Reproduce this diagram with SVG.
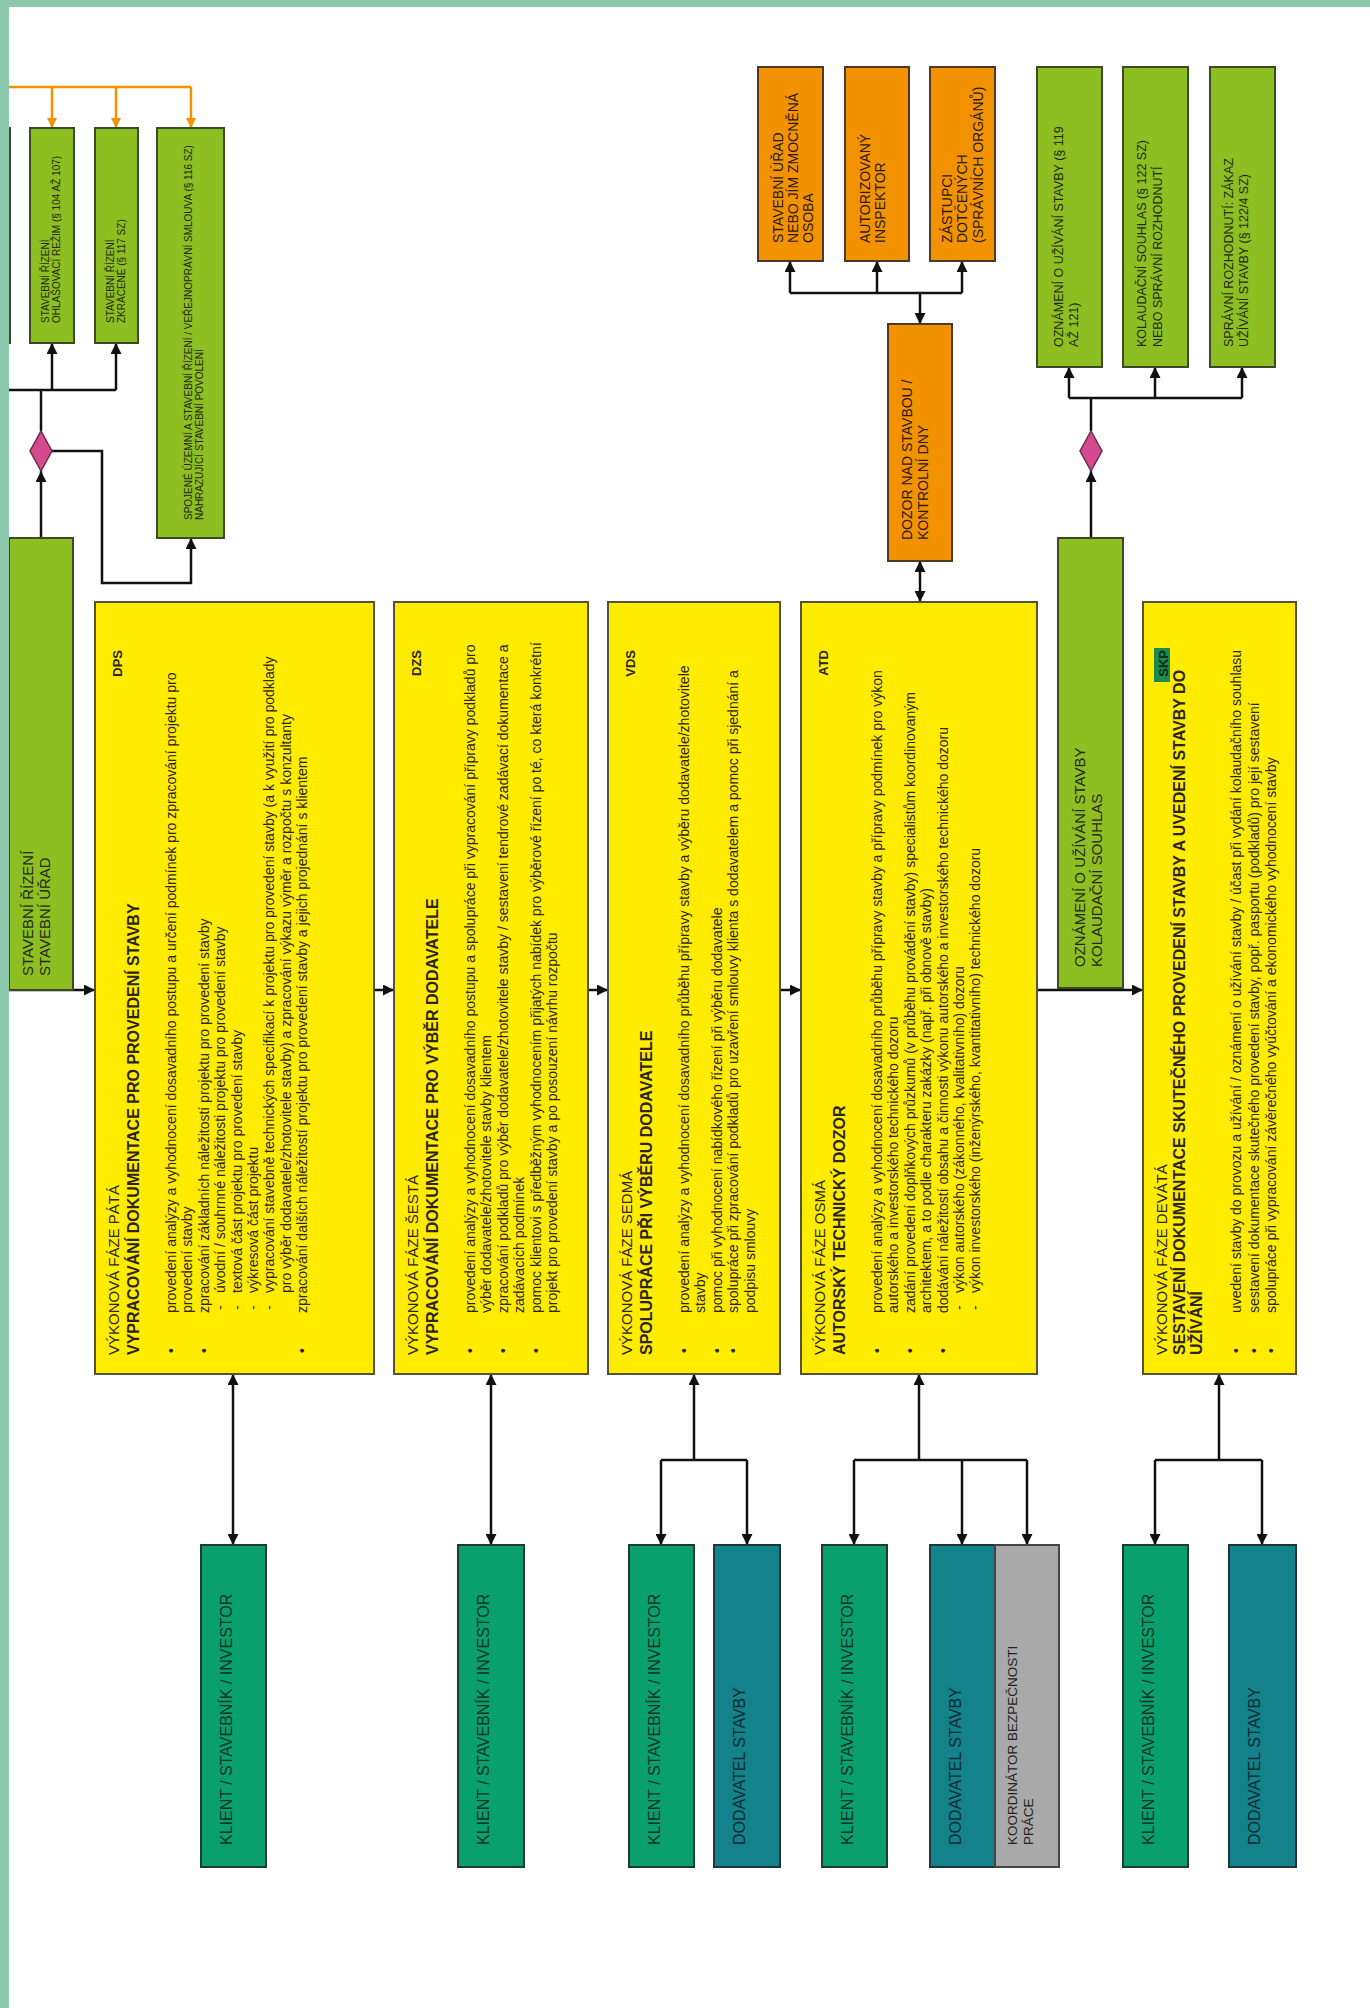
<svg xmlns="http://www.w3.org/2000/svg" width="1370" height="2008" viewBox="0 0 1370 2008">
<defs>
<style>
text{font-family:"Liberation Sans",Arial,sans-serif;fill:#2a2410}
.y{fill:#ffec00;stroke:#55513a;stroke-width:2}
.lm{fill:#8dbe22;stroke:#3d4a25;stroke-width:2}
.or{fill:#f39200;stroke:#4d3a25;stroke-width:2}
.gn{fill:#0aa06e;stroke:#1f3b30;stroke-width:2}
.tl{fill:#14828a;stroke:#1f3538;stroke-width:2}
.gy{fill:#a9a9a9;stroke:#444;stroke-width:2}
.dm{fill:#d34a8e;stroke:#6a2c4a;stroke-width:1.5}
.hd{font-size:15px}
.ti{font-size:16px;font-weight:bold}
.bd{font-size:14px}
.lb{font-size:13px;font-weight:bold}
.sm{font-size:10px;fill:#1e2a0f}
.bx{font-size:14px;fill:#2a1a00}
.bg{font-size:12.5px;fill:#1e2a0f}
.bl{font-size:15px;fill:#1e2a0f}
.bt{font-size:16px;fill:#0b3326}
.c{fill:none;stroke:#111;stroke-width:2.5}
.co{fill:none;stroke:#f39200;stroke-width:2.5}
</style>
<marker id="ah" viewBox="0 0 10 10" refX="10" refY="5" markerWidth="11" markerHeight="11" markerUnits="userSpaceOnUse" orient="auto-start-reverse"><path d="M0,0 L10,5 L0,10 z" fill="#111"/></marker>
<marker id="ao" viewBox="0 0 10 10" refX="10" refY="5" markerWidth="10" markerHeight="10" markerUnits="userSpaceOnUse" orient="auto-start-reverse"><path d="M0,0 L10,5 L0,10 z" fill="#f39200"/></marker>
</defs>
<rect x="0" y="0" width="1370" height="2008" fill="#ffffff"/>

<g id="connectors">
<path class="co" d="M9,87 H191" />
<path class="co" d="M52,87 V128" marker-end="url(#ao)"/>
<path class="co" d="M116,87 V128" marker-end="url(#ao)"/>
<path class="co" d="M191,87 V128" marker-end="url(#ao)"/>
<path class="c" d="M9,390 H116"/>
<path class="c" d="M52,390 V343" marker-end="url(#ah)"/>
<path class="c" d="M116,390 V343" marker-end="url(#ah)"/>
<path class="c" d="M41,431 V390"/>
<path class="c" d="M41,538 V471" marker-end="url(#ah)"/>
<path class="c" d="M52,451 H102 V583 H191 V538" marker-end="url(#ah)"/>
<path class="c" d="M9,990 H95" marker-end="url(#ah)"/>
<path class="c" d="M374,990 H394" marker-end="url(#ah)"/>
<path class="c" d="M588,990 H608" marker-end="url(#ah)"/>
<path class="c" d="M780,990 H801" marker-end="url(#ah)"/>
<path class="c" d="M1037,990 H1143" marker-end="url(#ah)"/>
<path class="c" d="M790,293 H962"/>
<path class="c" d="M790,293 V261" marker-end="url(#ah)"/>
<path class="c" d="M877,293 V261" marker-end="url(#ah)"/>
<path class="c" d="M962,293 V261" marker-end="url(#ah)"/>
<path class="c" d="M920,293 V324" marker-end="url(#ah)"/>
<path class="c" d="M920,561 V602" marker-start="url(#ah)" marker-end="url(#ah)"/>
<path class="c" d="M1069,398 H1242"/>
<path class="c" d="M1069,398 V367" marker-end="url(#ah)"/>
<path class="c" d="M1155,398 V367" marker-end="url(#ah)"/>
<path class="c" d="M1242,398 V367" marker-end="url(#ah)"/>
<path class="c" d="M1091,398 V431"/>
<path class="c" d="M1091,538 V471" marker-end="url(#ah)"/>
<path class="c" d="M233,1374 V1545" marker-start="url(#ah)" marker-end="url(#ah)"/>
<path class="c" d="M491,1374 V1545" marker-start="url(#ah)" marker-end="url(#ah)"/>
<path class="c" d="M694,1460 V1374" marker-end="url(#ah)"/>
<path class="c" d="M661,1460 H747"/>
<path class="c" d="M661,1460 V1545" marker-end="url(#ah)"/>
<path class="c" d="M747,1460 V1545" marker-end="url(#ah)"/>
<path class="c" d="M919,1460 V1374" marker-end="url(#ah)"/>
<path class="c" d="M854,1460 H1027"/>
<path class="c" d="M854,1460 V1545" marker-end="url(#ah)"/>
<path class="c" d="M962,1460 V1545" marker-end="url(#ah)"/>
<path class="c" d="M1027,1460 V1545" marker-end="url(#ah)"/>
<path class="c" d="M1219,1460 V1374" marker-end="url(#ah)"/>
<path class="c" d="M1155,1460 H1262"/>
<path class="c" d="M1155,1460 V1545" marker-end="url(#ah)"/>
<path class="c" d="M1262,1460 V1545" marker-end="url(#ah)"/>
</g>

<g id="n-left-partial"><rect class="lm" x="-40" y="128" width="50" height="215"/></g>
<g id="n-sr-ohlaseni"><rect class="lm" x="30" y="128" width="44" height="215"/>
<g transform="translate(30,343) rotate(-90)"><text class="sm" x="20" y="19">STAVEBNÍ ŘÍZENÍ</text><text class="sm" x="20" y="30">OHLAŠOVACÍ REŽIM (§ 104 AŽ 107)</text></g></g>
<g id="n-sr-zkracene"><rect class="lm" x="95" y="128" width="43" height="215"/>
<g transform="translate(95,343) rotate(-90)"><text class="sm" x="20" y="19">STAVEBNÍ ŘÍZENÍ</text><text class="sm" x="20" y="30">ZKRÁCENÉ (§ 117 SZ)</text></g></g>
<g id="n-sr-smlouva"><rect class="lm" x="157" y="128" width="67" height="410"/>
<g transform="translate(157,538) rotate(-90)"><text class="sm" x="18" y="35">SPOJENÉ ÚZEMNÍ A STAVEBNÍ ŘÍZENÍ / VEŘEJNOPRÁVNÍ SMLOUVA (§ 116 SZ)</text><text class="sm" x="18" y="46">NAHRAZUJÍCÍ STAVEBNÍ POVOLENÍ</text></g></g>
<g id="n-diamond1"><polygon class="dm" points="41,431 52,451 41,471 30,451"/></g>
<g id="n-stavebni-rizeni"><rect class="lm" x="9" y="538" width="64" height="452"/>
<g transform="translate(9,990) rotate(-90)"><text class="bl" x="14" y="24">STAVEBNÍ ŘÍZENÍ</text><text class="bl" x="14" y="41">STAVEBNÍ ÚŘAD</text></g></g>

<g id="n-dps"><rect class="y" x="95" y="602" width="279" height="772"/>
<g transform="translate(95,1374) rotate(-90)">
<text class="hd" x="19" y="24">VÝKONOVÁ FÁZE PÁTÁ</text>
<text class="ti" x="19" y="44">VYPRACOVÁNÍ DOKUMENTACE PRO PROVEDENÍ STAVBY</text>
<text class="lb" x="724" y="27" text-anchor="end">DPS</text>
<text class="bd" x="21" y="81">•</text><text class="bd" x="21" y="114">•</text><text class="bd" x="21" y="212">•</text>
<text class="bd" x="64" y="130">-</text><text class="bd" x="64" y="147">-</text><text class="bd" x="64" y="163">-</text><text class="bd" x="64" y="179">-</text>
<text class="bd" x="61" y="81">provedení analýzy a vyhodnocení dosavadního postupu a určení podmínek pro zpracování projektu pro</text>
<text class="bd" x="61" y="97">provedení stavby</text>
<text class="bd" x="61" y="114">zpracování základních náležitostí projektu pro provedení stavby</text>
<text class="bd" x="81" y="130">úvodní / souhrnné náležitosti projektu pro provedení stavby</text>
<text class="bd" x="81" y="147">textová část projektu pro provedení stavby</text>
<text class="bd" x="81" y="163">výkresová část projektu</text>
<text class="bd" x="81" y="179">vypracování stavebně technických specifikací k projektu pro provedení stavby (a k využití pro podklady</text>
<text class="bd" x="81" y="196">pro výběr dodavatele/zhotovitele stavby) a zpracování výkazu výměr a rozpočtu s konzultanty</text>
<text class="bd" x="61" y="212">zpracování dalších náležitostí projektu pro provedení stavby a jejich projednání s klientem</text>
</g></g>

<g id="n-dzs"><rect class="y" x="394" y="602" width="194" height="772"/>
<g transform="translate(394,1374) rotate(-90)">
<text class="hd" x="19" y="24">VÝKONOVÁ FÁZE ŠESTÁ</text>
<text class="ti" x="19" y="44">VYPRACOVÁNÍ DOKUMENTACE PRO VÝBĚR DODAVATELE</text>
<text class="lb" x="724" y="27" text-anchor="end">DZS</text>
<text class="bd" x="21" y="81">•</text><text class="bd" x="21" y="114">•</text><text class="bd" x="21" y="147">•</text>
<text class="bd" x="61" y="81">provedení analýzy a vyhodnocení dosavadního postupu a spolupráce při vypracování přípravy podkladů pro</text>
<text class="bd" x="61" y="97">výběr dodavatele/zhotovitele stavby klientem</text>
<text class="bd" x="61" y="114">zpracování podkladů pro výběr dodavatele/zhotovitele stavby / sestavení tendrové zadávací dokumentace a</text>
<text class="bd" x="61" y="130">zadávacích podmínek</text>
<text class="bd" x="61" y="147">pomoc klientovi s předběžným vyhodnocením přijatých nabídek pro výběrové řízení po té, co která konkrétní</text>
<text class="bd" x="61" y="163">projekt pro provedení stavby a po posouzení návrhu rozpočtu</text>
</g></g>

<g id="n-vds"><rect class="y" x="608" y="602" width="172" height="772"/>
<g transform="translate(608,1374) rotate(-90)">
<text class="hd" x="19" y="24">VÝKONOVÁ FÁZE SEDMÁ</text>
<text class="ti" x="19" y="44">SPOLUPRÁCE PŘI VÝBĚRU DODAVATELE</text>
<text class="lb" x="724" y="27" text-anchor="end">VDS</text>
<text class="bd" x="21" y="81">•</text><text class="bd" x="21" y="114">•</text><text class="bd" x="21" y="130">•</text>
<text class="bd" x="61" y="81">provedení analýzy a vyhodnocení dosavadního průběhu přípravy stavby a výběru dodavatele/zhotovitele</text>
<text class="bd" x="61" y="97">stavby</text>
<text class="bd" x="61" y="114">pomoc při vyhodnocení nabídkového řízení při výběru dodavatele</text>
<text class="bd" x="61" y="130">spolupráce při zpracování podkladů pro uzavření smlouvy klienta s dodavatelem a pomoc při sjednání a</text>
<text class="bd" x="61" y="147">podpisu smlouvy</text>
</g></g>

<g id="n-atd"><rect class="y" x="801" y="602" width="236" height="772"/>
<g transform="translate(801,1374) rotate(-90)">
<text class="hd" x="19" y="24">VÝKONOVÁ FÁZE OSMÁ</text>
<text class="ti" x="19" y="44">AUTORSKÝ TECHNICKÝ DOZOR</text>
<text class="lb" x="724" y="27" text-anchor="end">ATD</text>
<text class="bd" x="21" y="81">•</text><text class="bd" x="21" y="114">•</text><text class="bd" x="21" y="147">•</text>
<text class="bd" x="64" y="163">-</text><text class="bd" x="64" y="179">-</text>
<text class="bd" x="61" y="81">provedení analýzy a vyhodnocení dosavadního průběhu přípravy stavby a přípravy podmínek pro výkon</text>
<text class="bd" x="61" y="97">autorského a investorského technického dozoru</text>
<text class="bd" x="61" y="114">zadání provedení doplňkových průzkumů (v průběhu provádění stavby) specialistům koordinovaným</text>
<text class="bd" x="61" y="130">architektem, a to podle charakteru zakázky (např. při obnově stavby)</text>
<text class="bd" x="61" y="147">dodávání náležitostí obsahu a činnosti výkonu autorského a investorského technického dozoru</text>
<text class="bd" x="81" y="163">výkon autorského (zákonného, kvalitativního) dozoru</text>
<text class="bd" x="81" y="179">výkon investorského (inženýrského, kvantitativního) technického dozoru</text>
</g></g>

<g id="n-skp"><rect class="y" x="1143" y="602" width="153" height="772"/>
<g transform="translate(1143,1374) rotate(-90)">
<text class="hd" x="19" y="24">VÝKONOVÁ FÁZE DEVÁTÁ</text>
<text class="ti" x="19" y="42">SESTAVENÍ DOKUMENTACE SKUTEČNÉHO PROVEDENÍ STAVBY A UVEDENÍ STAVBY DO</text>
<text class="ti" x="19" y="59">UŽÍVÁNÍ</text>
<rect x="692" y="11" width="34" height="16" fill="#1d8a4e"/>
<text class="lb" x="724" y="25" text-anchor="end" style="fill:#0b2a1a">SKP</text>
<text class="bd" x="21" y="98">•</text><text class="bd" x="21" y="116">•</text><text class="bd" x="21" y="133">•</text>
<text class="bd" x="61" y="98">uvedení stavby do provozu a užívání / oznámení o užívání stavby / účast při vydání kolaudačního souhlasu</text>
<text class="bd" x="61" y="116">sestavení dokumentace skutečného provedení stavby, popř. pasportu (podkladů) pro její sestavení</text>
<text class="bd" x="61" y="133">spolupráce při vypracování závěrečného vyúčtování a ekonomického vyhodnocení stavby</text>
</g></g>

<g id="n-ou1"><rect class="or" x="758" y="67" width="65" height="194"/>
<g transform="translate(758,261) rotate(-90)"><text class="bx" x="18" y="25">STAVEBNÍ ÚŘAD</text><text class="bx" x="18" y="40">NEBO JÍM ZMOCNĚNÁ</text><text class="bx" x="18" y="55">OSOBA</text></g></g>
<g id="n-ou2"><rect class="or" x="845" y="67" width="64" height="194"/>
<g transform="translate(845,261) rotate(-90)"><text class="bx" x="18" y="25">AUTORIZOVANÝ</text><text class="bx" x="18" y="40">INSPEKTOR</text></g></g>
<g id="n-ou3"><rect class="or" x="930" y="67" width="65" height="194"/>
<g transform="translate(930,261) rotate(-90)"><text class="bx" x="18" y="22">ZÁSTUPCI</text><text class="bx" x="18" y="37">DOTČENÝCH</text><text class="bx" x="18" y="53">(SPRÁVNÍCH ORGÁNŮ)</text></g></g>
<g id="n-dozor"><rect class="or" x="888" y="324" width="64" height="237"/>
<g transform="translate(888,561) rotate(-90)"><text class="bx" x="21" y="24">DOZOR NAD STAVBOU /</text><text class="bx" x="21" y="40">KONTROLNÍ DNY</text></g></g>

<g id="n-g1"><rect class="lm" x="1037" y="67" width="65" height="300"/>
<g transform="translate(1037,367) rotate(-90)"><text class="bg" x="20" y="26">OZNÁMENÍ O UŽÍVÁNÍ STAVBY (§ 119</text><text class="bg" x="20" y="41">AŽ 121)</text></g></g>
<g id="n-g2"><rect class="lm" x="1123" y="67" width="65" height="300"/>
<g transform="translate(1123,367) rotate(-90)"><text class="bg" x="20" y="23">KOLAUDAČNÍ SOUHLAS (§ 122 SZ)</text><text class="bg" x="20" y="39">NEBO SPRÁVNÍ ROZHODNUTÍ</text></g></g>
<g id="n-g3"><rect class="lm" x="1210" y="67" width="65" height="300"/>
<g transform="translate(1210,367) rotate(-90)"><text class="bg" x="20" y="23">SPRÁVNÍ ROZHODNUTÍ: ZÁKAZ</text><text class="bg" x="20" y="38">UŽÍVÁNÍ STAVBY (§ 122/4 SZ)</text></g></g>
<g id="n-diamond2"><polygon class="dm" points="1091,431 1102,451 1091,471 1080,451"/></g>
<g id="n-oznameni"><rect class="lm" x="1058" y="538" width="65" height="450"/>
<g transform="translate(1058,988) rotate(-90)"><text class="bl" x="21" y="27">OZNÁMENÍ O UŽÍVÁNÍ STAVBY</text><text class="bl" x="21" y="44">KOLAUDAČNÍ SOUHLAS</text></g></g>

<g id="n-k1"><rect class="gn" x="201" y="1545" width="65" height="322"/>
<g transform="translate(201,1867) rotate(-90)"><text class="bt" x="22" y="31">KLIENT / STAVEBNÍK / INVESTOR</text></g></g>
<g id="n-k2"><rect class="gn" x="458" y="1545" width="66" height="322"/>
<g transform="translate(458,1867) rotate(-90)"><text class="bt" x="22" y="31">KLIENT / STAVEBNÍK / INVESTOR</text></g></g>
<g id="n-k3"><rect class="gn" x="629" y="1545" width="65" height="322"/>
<g transform="translate(629,1867) rotate(-90)"><text class="bt" x="22" y="31">KLIENT / STAVEBNÍK / INVESTOR</text></g></g>
<g id="n-d1"><rect class="tl" x="714" y="1545" width="66" height="322"/>
<g transform="translate(714,1867) rotate(-90)"><text class="bt" style="fill:#0a2a33" x="22" y="31">DODAVATEL STAVBY</text></g></g>
<g id="n-k4"><rect class="gn" x="822" y="1545" width="65" height="322"/>
<g transform="translate(822,1867) rotate(-90)"><text class="bt" x="22" y="31">KLIENT / STAVEBNÍK / INVESTOR</text></g></g>
<g id="n-d2"><rect class="tl" x="930" y="1545" width="65" height="322"/>
<g transform="translate(930,1867) rotate(-90)"><text class="bt" style="fill:#0a2a33" x="22" y="31">DODAVATEL STAVBY</text></g></g>
<g id="n-kbozp"><rect class="gy" x="995" y="1545" width="64" height="322"/>
<g transform="translate(995,1867) rotate(-90)"><text style="font-size:13.5px;fill:#222" x="22" y="22">KOORDINÁTOR BEZPEČNOSTI</text><text style="font-size:13.5px;fill:#222" x="22" y="38">PRÁCE</text></g></g>
<g id="n-k5"><rect class="gn" x="1123" y="1545" width="65" height="322"/>
<g transform="translate(1123,1867) rotate(-90)"><text class="bt" x="22" y="31">KLIENT / STAVEBNÍK / INVESTOR</text></g></g>
<g id="n-d3"><rect class="tl" x="1229" y="1545" width="67" height="322"/>
<g transform="translate(1229,1867) rotate(-90)"><text class="bt" style="fill:#0a2a33" x="22" y="31">DODAVATEL STAVBY</text></g></g>

<rect x="0" y="0" width="1370" height="7" fill="#8cc8ac"/>
<rect x="0" y="0" width="9" height="2008" fill="#8cc8ac"/>
</svg>
